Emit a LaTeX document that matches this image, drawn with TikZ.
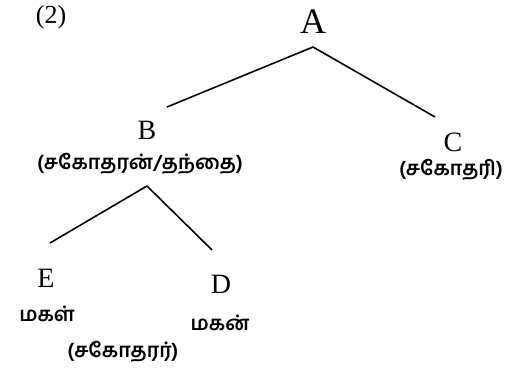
\documentclass[tikz,border=0pt]{standalone}
\usepackage{fontspec}
\setmainfont{Liberation Serif}
\newfontfamily\tamilfont[Script=Tamil]{Hind Madurai}
\usetikzlibrary{calc}

\begin{document}
\begin{tikzpicture}[
		x=0.5pt,
		y=-0.5pt,
		lbl/.style={inner sep=0pt, font=\fontsize{14}{16}\selectfont},
		tam/.style={inner sep=0pt, font=\tamilfont\bfseries\fontsize{10}{12}\selectfont},
		edge/.style={line width=0.8pt}
		]
		
		\useasboundingbox (0,0) rectangle (512,373);
		
		% number
		\node[inner sep=0pt, font=\fontsize{13}{15}\selectfont] (num) at (51,17) {(2)};
		
		% top
		\node[inner sep=0pt, font=\fontsize{18}{20}\selectfont] (A) at (313,22) {A};
		\coordinate (apexA) at (313,47);
		\coordinate (endB) at (167,107);
		\coordinate (endC) at (435,117);
		\draw[edge] (apexA) -- (endB);
		\draw[edge] (apexA) -- (endC);
		
		% second row
		\node[lbl] (B) at (147,130) {B};
		\node[tam] (Bt) at (140,164) {(சகோதரன்/தந்தை)};
		\node[lbl] (C) at (453,142) {C};
		\node[tam] (Ct) at (451,170) {(சகோதரி)};
		
		\coordinate (apexB) at (147,186);
		\coordinate (endE) at (50,243);
		\coordinate (endD) at (212,250);
		\draw[edge] (apexB) -- (endE);
		\draw[edge] (apexB) -- (endD);
		
		% bottom row
		\node[lbl] (E) at (46,278) {E};
		\node[tam] (Et) at (47,314) {மகள்};
		\node[lbl] (D) at (221,284) {D};
		\node[tam] (Dt) at (220,323) {மகன்};
		\node[tam] (ED) at (123,352) {(சகோதரர்)};
		
	\end{tikzpicture}
\end{document}
